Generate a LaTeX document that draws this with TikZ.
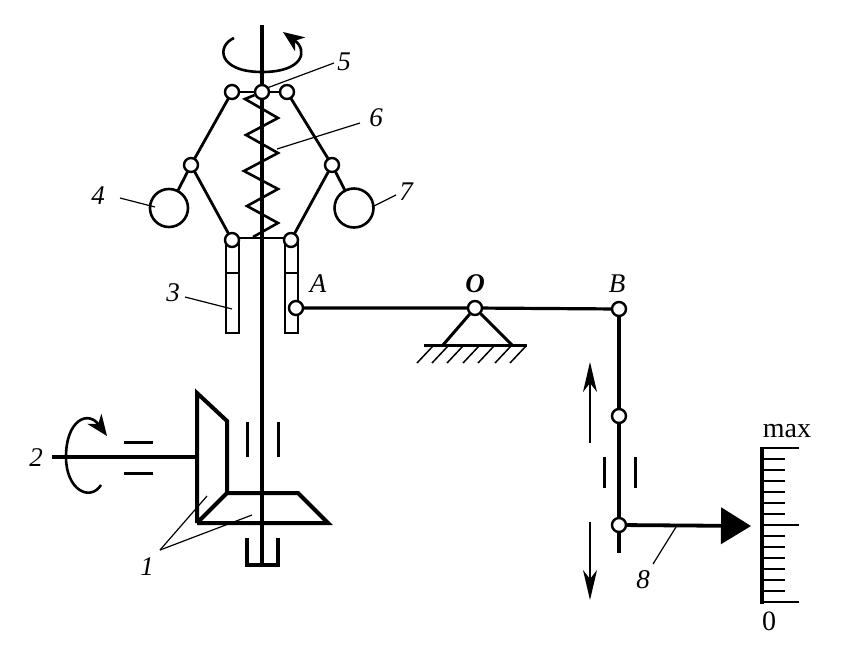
\documentclass[tikz,border=0pt]{standalone}
\usepackage{fontspec}
\setmainfont{Liberation Serif}
\usetikzlibrary{arrows.meta,backgrounds}
\tikzset{
  pivot/.style={circle,draw=black,fill=white,line width=2.4pt,inner sep=0pt,minimum size=14pt},
  ball/.style={circle,draw=black,line width=2.6pt,inner sep=0pt,minimum size=#1},
  lbl/.style={inner sep=0pt,font=\fontsize{27}{27}\selectfont\itshape},
  scalelbl/.style={inner sep=0pt,font=\fontsize{28}{28}\selectfont},
  link/.style={line width=2.8pt,line cap=round},
  shaft/.style={line width=3.6pt},
  thick part/.style={line width=4pt,line join=miter},
  leader/.style={line width=1.2pt},
  guide/.style={line width=3pt},
  thin arrow/.style={line width=1.8pt,-{Stealth[length=30pt,width=14pt,inset=9pt]}},
  rot/.style={line width=2.6pt,-{Stealth[length=21pt,width=17pt,inset=6pt]}},
  tick/.style={line width=2.8pt}
}
\begin{document}
\begin{tikzpicture}[x=1pt,y=-1pt]
\useasboundingbox (0,0) rectangle (842,654);
% pivots
\node[pivot] (p1) at (232,92) {};
\node[pivot] (p2) at (262,92) {};
\node[pivot] (p3) at (287,92) {};
\node[pivot] (m1) at (191,165) {};
\node[pivot] (m2) at (332,165) {};
\node[pivot] (b1) at (232,240) {};
\node[pivot] (b2) at (291,240) {};
\node[pivot] (A) at (296,308) {};
\node[pivot] (O) at (475,308) {};
\node[pivot] (B) at (619,309) {};
\node[pivot] (C) at (619,416) {};
\node[pivot] (D) at (619,525) {};
% balls
\node[ball=38pt] (w1) at (169,208) {};
\node[ball=39pt] (w2) at (354,208) {};
% free coordinates
\coordinate (shT) at (262,25);
\coordinate (shB) at (262,565);
\coordinate (sL) at (443,345);
\coordinate (sR) at (512,345);
\coordinate (rodE) at (619,553);
\coordinate (tip) at (751,526);
\coordinate (in) at (52,457);
\coordinate (inE) at (197,457);
\coordinate (l5) at (334,63);
\coordinate (l6) at (360,123);
\coordinate (l4a) at (120,198);
\coordinate (l4b) at (155,207);
\coordinate (l7a) at (396,195);
\coordinate (l7b) at (372,207);
\coordinate (l3) at (185,297);
\coordinate (l1) at (160,550);
\coordinate (l8) at (653,564);
% labels
\node[lbl] (n5) at (344,62) {5};
\node[lbl] (n6) at (376,118) {6};
\node[lbl] (n4) at (98,196) {4};
\node[lbl] (n7) at (406,192) {7};
\node[lbl] (n3) at (173,293) {3};
\node[lbl] (n2) at (36,458) {2};
\node[lbl] (n1) at (147,567) {1};
\node[lbl] (n8) at (643,580) {8};
\node[lbl] (nA) at (318,284) {A};
\node[lbl,font=\fontsize{27}{27}\selectfont\bfseries\itshape] (nO) at (475,284) {O};
\node[lbl] (nB) at (617,284) {B};
\node[scalelbl] (nmax) at (787,431) {max};
\node[scalelbl] (n0) at (769,621) {0};
\begin{scope}[on background layer]
% shaft and linkage
\draw[shaft] (shT) -- (shB);
\draw[link] (p1) -- (p3);
\draw[link] (p1) -- (m1) -- (b1);
\draw[link] (p3) -- (m2) -- (b2);
\draw[link] (m1) -- (w1);
\draw[link] (m2) -- (w2);
\draw[link] (232,238) -- (291,238);
% spring
\draw[line width=2.6pt,line join=miter] (p2) -- (245,99) -- (278,118) -- (246,135) -- (278,153) -- (244,171) -- (278,189) -- (247,206) -- (278,223) -- (253,237);
% rotation arrows
\draw[rot] (234,38) .. controls (216,46) and (218,72) .. (262,72) .. controls (304,72) and (308,50) .. (283,32);
\draw[rot] (101,485) .. controls (90,502) and (66,490) .. (66,457) .. controls (66,420) and (88,410) .. (107,436);
% sleeves
\draw[line width=2.6pt] (226,240) rectangle (239,333);
\draw[line width=2.6pt] (226,273) -- (239,273);
\draw[line width=2.6pt] (285,240) rectangle (298,333);
\draw[line width=2.6pt] (285,273) -- (298,273);
% lever
\draw[line width=3.2pt] (A) -- (O) -- (B);
\draw[line width=3pt] (O) -- (sL);
\draw[line width=3pt] (O) -- (sR);
\draw[line width=3pt] (424,345) -- (527,345);
\foreach \x in {433,448,463,479,494,511,526}
  \draw[line width=1.5pt] (\x,346) -- (\x-16,363);
% rod and pointer
\draw[line width=3.6pt] (B) -- (rodE);
\draw[line width=3.8pt,-{Triangle[length=30pt,width=36pt]}] (D) -- (tip);
\draw[guide] (604,457) -- (604,488);
\draw[guide] (635,457) -- (635,488);
\draw[thin arrow] (590,443) -- (590,362);
\draw[thin arrow] (590,522) -- (590,600);
% scale
\draw[line width=3.2pt] (762,447) -- (762,604);
\foreach \i in {1,...,13}
  \draw[tick] (762,448+11*\i) -- (785,448+11*\i);
\draw[tick] (762,448) -- (799,448);
\draw[tick] (762,525) -- (799,525);
\draw[tick] (762,602) -- (799,602);
% input shaft
\draw[line width=3.8pt] (in) -- (inE);
\draw[guide] (124,442) -- (153,442);
\draw[guide] (124,473) -- (153,473);
% bevel gears
\draw[thick part,line join=miter] (197,523) -- (197,393) -- (227,421) -- (227,493) -- (197,523);
\draw[thick part] (227,493) -- (298,493) -- (328,523) -- (197,523);
\draw[guide] (247,422) -- (247,457);
\draw[guide] (278,422) -- (278,457);
\draw[thick part] (247,538) -- (247,565) -- (278,565) -- (278,538);
% leaders
\draw[leader] (267,88) -- (l5);
\draw[leader] (277,149) -- (l6);
\draw[leader] (l4a) -- (l4b);
\draw[leader] (l7a) -- (l7b);
\draw[leader] (l3) -- (232,309);
\draw[leader] (l1) -- (207,496);
\draw[leader] (l1) -- (252,515);
\draw[leader] (676,527) -- (l8);
\end{scope}
\end{tikzpicture}
\end{document}
